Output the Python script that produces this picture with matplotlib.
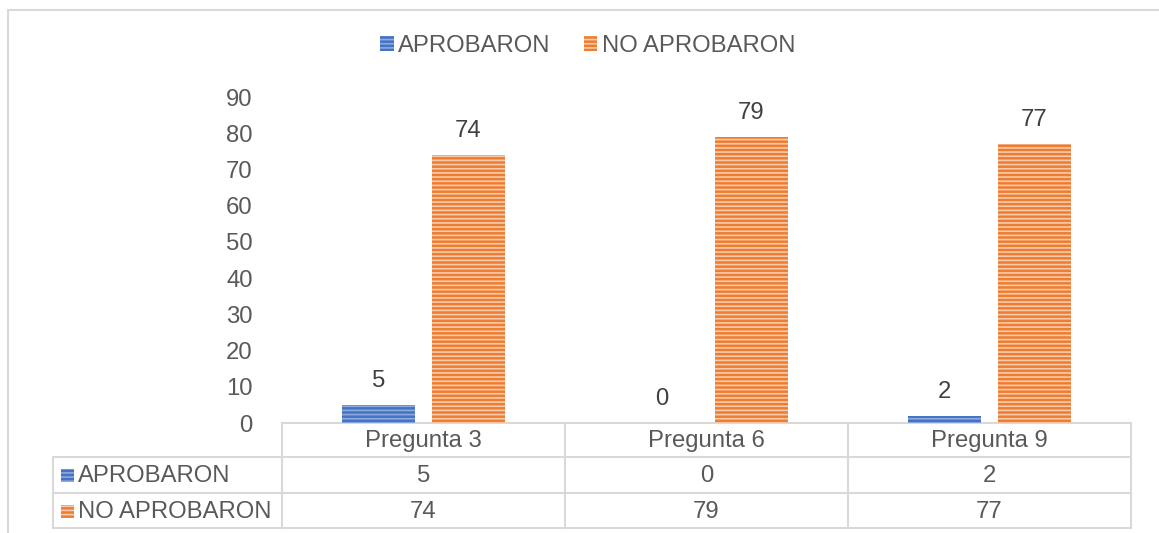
import matplotlib
matplotlib.use("Agg")
import matplotlib.pyplot as plt
from matplotlib.patches import Rectangle, Patch
from matplotlib.transforms import blended_transform_factory
import numpy as np

plt.rcParams['font.family'] = ['Liberation Sans', 'DejaVu Sans']
plt.rcParams['hatch.linewidth'] = 1.2

categories = ["Pregunta 3", "Pregunta 6", "Pregunta 9"]
series_names = ["APROBARON", "NO APROBARON"]
aprobaron = [5, 0, 2]
no_aprobaron = [74, 79, 77]
yticks = [0, 10, 20, 30, 40, 50, 60, 70, 80, 90]

colors = ["#4472C4", "#ED7D31"]
hatch_colors = ["#8FAADC", "#F8CBAD"]
text_color = "#595959"
label_color = "#404040"
grid_color = "#D9D9D9"
FS = 17.2

W, H = 1159, 533
fig = plt.figure(figsize=(W / 100, H / 100), dpi=100)

# overlay axes in pixel coordinates
ov = fig.add_axes([0, 0, 1, 1], zorder=0)
ov.set_xlim(0, W)
ov.set_ylim(H, 0)
ov.axis('off')

ax = fig.add_axes([282 / W, (H - 423) / H, (1131 - 282) / W, (423 - 97) / H], zorder=1)
ax.patch.set_alpha(0)

x = np.arange(len(categories))
bw = 0.258
off = 0.158
series = [aprobaron, no_aprobaron]
for i, vals in enumerate(series):
    pos = x + (-off if i == 0 else off)
    ax.bar(pos, vals, width=bw, color=colors[i], edgecolor=hatch_colors[i],
           linewidth=0, hatch='----', zorder=2)
    for p, v in zip(pos, vals):
        ax.annotate(str(v), (p, v), xytext=(0, 17), textcoords='offset points',
                    ha='center', va='center', fontsize=FS, color=label_color)

ax.set_xlim(-0.5, len(categories) - 0.5)
ax.set_ylim(0, 90)
ax.set_yticks(yticks)
ax.set_yticklabels([str(t) for t in yticks], fontsize=FS, color=text_color)
ax.tick_params(axis='y', length=0, pad=21)
ax.set_xticks([])
for s in ax.spines.values():
    s.set_visible(False)

# outer frame
ov.plot([8, 8], [10, H + 5], color=grid_color, lw=1.5)
ov.plot([8, W + 5], [10, 10], color=grid_color, lw=1.5)

# data table
bt = blended_transform_factory(ax.transData, ov.transData)
rows_y = [423, 457, 493, 528]
lw = 1.5
ov.plot([-0.5, len(categories) - 0.5], [423, 423], color=grid_color, lw=lw, transform=bt)
for yy in rows_y[1:]:
    ov.plot([53, 1131], [yy, yy], color=grid_color, lw=lw)
for k in range(len(categories) + 1):
    ov.plot([k - 0.5, k - 0.5], [423, 528], color=grid_color, lw=lw, transform=bt)
ov.plot([53, 53], [457, 528], color=grid_color, lw=lw)

for j, c in enumerate(categories):
    ov.text(j, (rows_y[0] + rows_y[1]) / 2 + 1, c, ha='center', va='center',
            fontsize=FS, color=text_color, transform=bt)
for i, vals in enumerate(series):
    yc = (rows_y[i + 1] + rows_y[i + 2]) / 2 + 1
    for j, v in enumerate(vals):
        ov.text(j, yc, str(v), ha='center', va='center', fontsize=FS,
                color=text_color, transform=bt)
    ov.add_patch(Rectangle((61, yc - 7), 13, 13, facecolor=colors[i],
                           edgecolor=hatch_colors[i], lw=0, hatch='----'))
    ov.text(78, yc, series_names[i], ha='left', va='center', fontsize=FS,
            color=text_color)

# legend
handles = [Patch(facecolor=colors[i], edgecolor=hatch_colors[i], lw=0,
                 hatch='----', label=series_names[i]) for i in range(2)]
fig.legend(handles=handles, loc='center', bbox_to_anchor=(588 / W, 1 - 46 / H),
           ncol=2, frameon=False, fontsize=FS, handlelength=0.55,
           handleheight=0.55, handletextpad=0.2, columnspacing=1.4,
           labelcolor=text_color)

fig.savefig("out.png", dpi=100, facecolor='white')
